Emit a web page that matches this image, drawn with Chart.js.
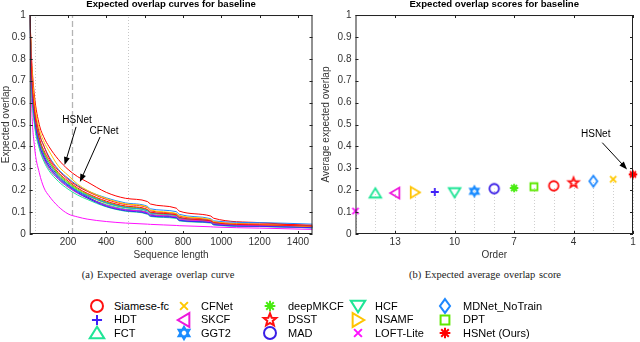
<!DOCTYPE html>
<html>
<head>
<meta charset="utf-8">
<script src="https://cdn.jsdelivr.net/npm/chart.js@4.4.1/dist/chart.umd.min.js"></script>
<style>
html, body { margin: 0; padding: 0; background: #fff; }
#page { position: relative; width: 640px; height: 342px; overflow: hidden; font-family: "Liberation Sans", Arial, sans-serif; }
#wrapCurve { position: absolute; left: 0; top: 0; width: 320px; height: 262px; }
#wrapScore { position: absolute; left: 320px; top: 0; width: 320px; height: 262px; }
.caption { position: absolute; top: 269px; font-family: "Liberation Serif", "Times New Roman", serif; font-size: 10.5px; color: #222; transform: translateX(-50%); white-space: nowrap; word-spacing: 1px; }
.legMark { position: absolute; width: 20px; height: 20px; }
.legText { position: absolute; font-size: 11px; line-height: 13px; color: #000; white-space: nowrap; }
</style>
</head>
<body>
<div id="page">
  <div id="wrapCurve"><canvas id="curveChart"></canvas></div>
  <div id="wrapScore"><canvas id="scoreChart"></canvas></div>
  <div class="caption" style="left:158px">(a) Expected average overlap curve</div>
  <div class="caption" style="left:485px">(b) Expected average overlap score</div>
  <div id="legend"></div>
</div>
<script>
// sequence lengths where the curves were read
const SEQ_LEN = [1, 10, 25, 50, 75, 100, 150, 200, 250, 300, 400, 500, 615, 630, 765, 780, 945, 960, 1200, 1476];

const CURVE_SIAMESE = [1.0, 0.74, 0.56, 0.44, 0.38, 0.34, 0.28, 0.242, 0.21, 0.186, 0.150, 0.128, 0.112, 0.100, 0.088, 0.076, 0.060, 0.052, 0.042, 0.036];
const CURVE_HDT     = [1.0, 0.70, 0.53, 0.41, 0.35, 0.31, 0.255, 0.22, 0.19, 0.165, 0.126, 0.106, 0.092, 0.082, 0.074, 0.062, 0.052, 0.043, 0.035, 0.029];
const CURVE_FCT     = [1.0, 0.67, 0.50, 0.39, 0.33, 0.29, 0.24, 0.205, 0.178, 0.158, 0.124, 0.104, 0.090, 0.080, 0.071, 0.060, 0.050, 0.041, 0.034, 0.028];
const CURVE_CFNET   = [1.0, 0.78, 0.60, 0.48, 0.42, 0.38, 0.31, 0.268, 0.228, 0.200, 0.162, 0.138, 0.122, 0.110, 0.094, 0.084, 0.066, 0.056, 0.044, 0.032];
const CURVE_SKCF    = [1.0, 0.69, 0.52, 0.40, 0.34, 0.30, 0.25, 0.214, 0.186, 0.164, 0.130, 0.110, 0.098, 0.088, 0.079, 0.068, 0.056, 0.046, 0.038, 0.030];
const CURVE_GGT2    = [1.0, 0.70, 0.53, 0.41, 0.35, 0.31, 0.26, 0.224, 0.196, 0.176, 0.142, 0.121, 0.106, 0.096, 0.086, 0.074, 0.060, 0.050, 0.041, 0.035];
const CURVE_DEEPMKCF= [1.0, 0.72, 0.55, 0.43, 0.37, 0.33, 0.27, 0.232, 0.20, 0.178, 0.143, 0.122, 0.107, 0.096, 0.085, 0.071, 0.057, 0.047, 0.040, 0.034];
const CURVE_DSST    = [1.0, 0.77, 0.59, 0.46, 0.40, 0.35, 0.29, 0.25, 0.218, 0.195, 0.158, 0.135, 0.120, 0.106, 0.093, 0.082, 0.064, 0.055, 0.046, 0.040];
const CURVE_MAD     = [1.0, 0.73, 0.55, 0.43, 0.36, 0.32, 0.265, 0.226, 0.195, 0.170, 0.130, 0.110, 0.096, 0.086, 0.076, 0.063, 0.053, 0.044, 0.035, 0.028];
const CURVE_HCF     = [1.0, 0.68, 0.51, 0.40, 0.34, 0.30, 0.25, 0.215, 0.188, 0.166, 0.134, 0.114, 0.100, 0.090, 0.080, 0.068, 0.055, 0.046, 0.038, 0.031];
const CURVE_NSAMF   = [1.0, 0.71, 0.53, 0.41, 0.35, 0.31, 0.26, 0.225, 0.196, 0.174, 0.140, 0.120, 0.106, 0.095, 0.085, 0.074, 0.061, 0.051, 0.041, 0.034];
const CURVE_LOFT    = [1.0, 0.60, 0.40, 0.28, 0.21, 0.175, 0.125, 0.092, 0.078, 0.068, 0.057, 0.050, 0.045, 0.044, 0.039, 0.038, 0.033, 0.032, 0.027, 0.021];
const CURVE_MDNET   = [1.0, 0.76, 0.58, 0.46, 0.40, 0.355, 0.295, 0.255, 0.222, 0.198, 0.165, 0.142, 0.126, 0.115, 0.102, 0.090, 0.070, 0.060, 0.052, 0.045];
const CURVE_DPT     = [1.0, 0.73, 0.55, 0.43, 0.37, 0.33, 0.275, 0.236, 0.205, 0.182, 0.146, 0.125, 0.110, 0.097, 0.086, 0.072, 0.060, 0.050, 0.041, 0.034];
const CURVE_HSNET   = [1.0, 0.80, 0.63, 0.50, 0.44, 0.40, 0.34, 0.295, 0.262, 0.238, 0.190, 0.163, 0.148, 0.137, 0.118, 0.105, 0.082, 0.072, 0.052, 0.037];

// legend order (column by column)
const TRACKERS = ['Siamese-fc', 'HDT', 'FCT', 'CFNet', 'SKCF', 'GGT2', 'deepMKCF', 'DSST', 'MAD',
                  'HCF', 'NSAMF', 'LOFT-Lite', 'MDNet_NoTrain', 'DPT', 'HSNet (Ours)'];
const CURVES = [CURVE_SIAMESE, CURVE_HDT, CURVE_FCT, CURVE_CFNET, CURVE_SKCF, CURVE_GGT2, CURVE_DEEPMKCF,
                CURVE_DSST, CURVE_MAD, CURVE_HCF, CURVE_NSAMF, CURVE_LOFT, CURVE_MDNET, CURVE_DPT, CURVE_HSNET];
const EAO   = [0.220, 0.192, 0.186, 0.250, 0.187, 0.195, 0.210, 0.234, 0.207, 0.190, 0.190, 0.105, 0.241, 0.216, 0.272];
const ORDER = [5, 11, 14, 2, 13, 9, 7, 4, 8, 10, 12, 15, 3, 6, 1];

const ORDER_TICKS = [13, 10, 7, 4, 1];
const LEN_TICKS = [200, 400, 600, 800, 1000, 1200, 1400];
const VOT_LOW = 28, VOT_PEAK = 222, VOT_HIGH = 514;

const COLORS = ['#ff1010', '#4020f8', '#1fe596', '#ffc800', '#ee18dc', '#1a8cff', '#48ec10', '#ff1010',
                '#3a1ee6', '#1fe596', '#ffc400', '#ff10ff', '#1e88ff', '#5ee800', '#ff0000'];
const SHAPES = ['circle', 'plus', 'triUp', 'cross', 'triLeft', 'hexagram', 'asterisk', 'pentagram', 'circle',
                'triDown', 'triRight', 'cross', 'diamond', 'square', 'asterisk'];

Chart.defaults.font.family = '"Liberation Sans", Arial, sans-serif';
Chart.defaults.color = '#333';

function poly(ctx, pts, u) {
    ctx.moveTo(pts[0][0] * u, pts[0][1] * u);
    for (let i = 1; i < pts.length; i++) ctx.lineTo(pts[i][0] * u, pts[i][1] * u);
    ctx.closePath();
}

function drawMarker(ctx, shape, color, cx, cy, u, lw) {
    ctx.save();
    ctx.translate(cx, cy);
    ctx.strokeStyle = color;
    ctx.lineWidth = lw;
    ctx.beginPath();
    if (shape === 'circle') {
        ctx.arc(0, 0, u * 0.95, 0, Math.PI * 2);
    } else if (shape === 'plus') {
        ctx.moveTo(-0.8 * u, 0); ctx.lineTo(0.8 * u, 0);
        ctx.moveTo(0, -0.8 * u); ctx.lineTo(0, 0.8 * u);
    } else if (shape === 'cross') {
        const d = 0.62 * u;
        ctx.moveTo(-d, -d); ctx.lineTo(d, d);
        ctx.moveTo(-d, d); ctx.lineTo(d, -d);
    } else if (shape === 'asterisk') {
        const d = 0.85 * u, e = d * 0.707;
        ctx.moveTo(-d, 0); ctx.lineTo(d, 0);
        ctx.moveTo(0, -d); ctx.lineTo(0, d);
        ctx.moveTo(-e, -e); ctx.lineTo(e, e);
        ctx.moveTo(-e, e); ctx.lineTo(e, -e);
    } else if (shape === 'triUp') {
        poly(ctx, [[0, -1.0], [-1.15, 0.85], [1.15, 0.85]], u);
    } else if (shape === 'triDown') {
        poly(ctx, [[0, 1.0], [-1.15, -0.85], [1.15, -0.85]], u);
    } else if (shape === 'triLeft') {
        poly(ctx, [[-1.0, 0], [0.85, -1.1], [0.85, 1.1]], u);
    } else if (shape === 'triRight') {
        poly(ctx, [[1.0, 0], [-0.85, -1.1], [-0.85, 1.1]], u);
    } else if (shape === 'diamond') {
        poly(ctx, [[0, -1.1], [0.8, 0], [0, 1.1], [-0.8, 0]], u);
    } else if (shape === 'square') {
        poly(ctx, [[-0.7, -0.7], [0.7, -0.7], [0.7, 0.7], [-0.7, 0.7]], u);
    } else if (shape === 'hexagram') {
        poly(ctx, [[0, -1.0], [-0.87, 0.5], [0.87, 0.5]], u);
        poly(ctx, [[0, 1.0], [-0.87, -0.5], [0.87, -0.5]], u);
    } else if (shape === 'pentagram') {
        const pts = [];
        for (let k = 0; k < 10; k++) {
            const r = k % 2 === 0 ? 1.05 : 0.45;
            const a = -Math.PI / 2 + k * Math.PI / 5;
            pts.push([r * Math.cos(a), r * Math.sin(a)]);
        }
        poly(ctx, pts, u);
    }
    ctx.stroke();
    ctx.restore();
}

function markerImage(i, u, lw) {
    const c = document.createElement('canvas');
    c.width = 20; c.height = 20;
    drawMarker(c.getContext('2d'), SHAPES[i], COLORS[i], 10, 10, u, lw);
    return c;
}

// box with inward ticks on all four sides, like the matlab axes
const boxPlugin = {
    id: 'box',
    afterDatasetsDraw(chart) {
        const { ctx, chartArea: a, scales } = chart;
        ctx.save();
        ctx.strokeStyle = '#222';
        ctx.lineWidth = 1;
        ctx.strokeRect(a.left + 0.5, a.top + 0.5, a.right - a.left - 1, a.bottom - a.top - 1);
        ctx.beginPath();
        scales.x.ticks.forEach(t => {
            const px = Math.round(scales.x.getPixelForValue(t.value)) + 0.5;
            ctx.moveTo(px, a.bottom); ctx.lineTo(px, a.bottom - 3);
            ctx.moveTo(px, a.top); ctx.lineTo(px, a.top + 3);
        });
        scales.y.ticks.forEach(t => {
            const py = Math.round(scales.y.getPixelForValue(t.value)) + 0.5;
            ctx.moveTo(a.left, py); ctx.lineTo(a.left + 3, py);
            ctx.moveTo(a.right, py); ctx.lineTo(a.right - 3, py);
        });
        ctx.stroke();
        ctx.restore();
    }
};

function vline(chart, value, top, color, dash, lw) {
    const { ctx, chartArea: a, scales } = chart;
    const px = Math.round(scales.x.getPixelForValue(value)) + 0.5;
    ctx.save();
    ctx.strokeStyle = color;
    ctx.lineWidth = lw;
    ctx.setLineDash(dash);
    ctx.beginPath();
    ctx.moveTo(px, a.bottom);
    ctx.lineTo(px, top === null ? a.top : scales.y.getPixelForValue(top));
    ctx.stroke();
    ctx.restore();
}

function arrow(chart, label, tx, ty, x0, y0, x1, y1) {
    const { ctx, scales } = chart;
    const X = v => scales.x.getPixelForValue(v), Y = v => scales.y.getPixelForValue(v);
    ctx.save();
    ctx.fillStyle = '#000';
    ctx.strokeStyle = '#000';
    ctx.font = '10px "Liberation Sans", Arial, sans-serif';
    ctx.textAlign = 'center';
    ctx.textBaseline = 'middle';
    ctx.fillText(label, X(tx), Y(ty));
    const ax = X(x0), ay = Y(y0), bx = X(x1), by = Y(y1);
    const ang = Math.atan2(by - ay, bx - ax);
    ctx.lineWidth = 1;
    ctx.beginPath();
    ctx.moveTo(ax, ay);
    ctx.lineTo(bx - 4 * Math.cos(ang), by - 4 * Math.sin(ang));
    ctx.stroke();
    ctx.beginPath();
    ctx.moveTo(bx, by);
    ctx.lineTo(bx - 8 * Math.cos(ang) + 3 * Math.sin(ang), by - 8 * Math.sin(ang) - 3 * Math.cos(ang));
    ctx.lineTo(bx - 8 * Math.cos(ang) - 3 * Math.sin(ang), by - 8 * Math.sin(ang) + 3 * Math.cos(ang));
    ctx.closePath();
    ctx.fill();
    ctx.restore();
}

const curveLines = {
    id: 'curveLines',
    beforeDatasetsDraw(chart) {
        vline(chart, VOT_LOW, null, '#c8c8c8', [1, 2], 1);
        vline(chart, VOT_HIGH, null, '#c8c8c8', [1, 2], 1);
        vline(chart, VOT_PEAK, null, '#b4b4b4', [6, 3], 1.3);
    },
    afterDraw(chart) {
        arrow(chart, 'HSNet', 247, 0.52, 242, 0.489, 182, 0.315);
        arrow(chart, 'CFNet', 388, 0.467, 367, 0.443, 262, 0.237);
    }
};

const scoreLines = {
    id: 'scoreLines',
    beforeDatasetsDraw(chart) {
        ORDER.forEach((o, i) => vline(chart, o, EAO[i], '#cfcfcf', [1, 2], 1));
    },
    afterDraw(chart) {
        arrow(chart, 'HSNet', 2.88, 0.455, 2.55, 0.417, 1.3, 0.295);
    }
};

function yAxis(title, width) {
    return {
        min: 0, max: 1,
        grid: { display: false, drawTicks: false },
        border: { display: false },
        ticks: { stepSize: 0.1, padding: 4, font: { size: 10 }, callback: v => String(+v.toFixed(1)) },
        title: { display: true, text: title, font: { size: 10 }, padding: { top: 0, bottom: 0 } },
        afterFit: s => { s.width = width; }
    };
}

function xAxis(title, ticks, extra) {
    return Object.assign({
        type: 'linear',
        grid: { display: false, drawTicks: false },
        border: { display: false },
        ticks: { padding: 2, font: { size: 10 }, maxRotation: 0, autoSkip: false, callback: v => String(v) },
        title: { display: true, text: title, font: { size: 10 }, padding: { top: 0, bottom: 1 } },
        afterBuildTicks: s => { s.ticks = ticks.map(v => ({ value: v })); },
        afterFit: s => { s.height = 28; }
    }, extra);
}

function titleOpts(text) {
    return {
        display: true, text: text, fullSize: false, color: '#000',
        font: { size: 9.6, weight: 'bold' }, padding: { top: -1, bottom: 4.5 }
    };
}

new Chart(document.getElementById('curveChart'), {
    type: 'line',
    data: {
        datasets: TRACKERS.map((name, i) => ({
            label: name,
            data: SEQ_LEN.map((x, j) => ({ x: x, y: CURVES[i][j] })),
            borderColor: COLORS[i],
            borderWidth: 1,
            pointRadius: 0,
            cubicInterpolationMode: 'monotone',
            fill: false
        }))
    },
    options: {
        responsive: true,
        maintainAspectRatio: false,
        animation: false,
        layout: { padding: { left: 0, right: 7.5, top: 0, bottom: 0 } },
        plugins: { legend: { display: false }, tooltip: { enabled: false }, title: titleOpts('Expected overlap curves for baseline') },
        scales: {
            x: xAxis('Sequence length', LEN_TICKS, { min: 0, max: 1476 }),
            y: yAxis('Expected overlap', 29.7)
        }
    },
    plugins: [curveLines, boxPlugin]
});

new Chart(document.getElementById('scoreChart'), {
    type: 'scatter',
    data: {
        datasets: TRACKERS.map((name, i) => ({
            label: name,
            data: [{ x: ORDER[i], y: EAO[i] }],
            pointStyle: markerImage(i, 5, 1.8),
            pointRadius: 6,
            clip: false
        }))
    },
    options: {
        responsive: true,
        maintainAspectRatio: false,
        animation: false,
        layout: { padding: { left: 0, right: 4, top: 0, bottom: 0 } },
        plugins: { legend: { display: false }, tooltip: { enabled: false }, title: titleOpts('Expected overlap scores for baseline') },
        scales: {
            x: xAxis('Order', ORDER_TICKS, { min: 1, max: 15, reverse: true }),
            y: yAxis('Average expected overlap', 35.5)
        }
    },
    plugins: [scoreLines, boxPlugin]
});

// legend below both panels, five columns of three
const LEG_MARK_X = [97, 184, 270, 358, 445];
const LEG_TEXT_X = [114, 201, 288, 375, 463];
const LEG_ROW_Y = [306, 319.5, 333];
const legend = document.getElementById('legend');
TRACKERS.forEach((name, i) => {
    const col = Math.floor(i / 3), row = i % 3;
    const mark = markerImage(i, 6.3, 2);
    mark.className = 'legMark';
    mark.style.left = (LEG_MARK_X[col] - 10) + 'px';
    mark.style.top = (LEG_ROW_Y[row] - 10) + 'px';
    legend.appendChild(mark);
    const txt = document.createElement('div');
    txt.className = 'legText';
    txt.textContent = name;
    txt.style.left = LEG_TEXT_X[col] + 'px';
    txt.style.top = (LEG_ROW_Y[row] - 6.5) + 'px';
    legend.appendChild(txt);
});
</script>
</body>
</html>
